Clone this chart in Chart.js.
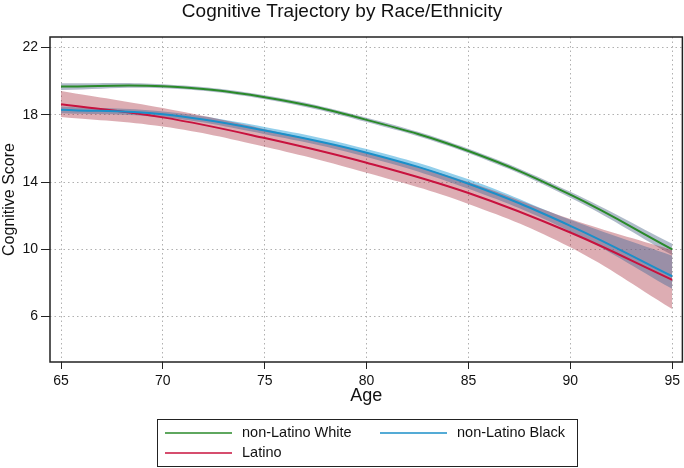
<!DOCTYPE html>
<html>
<head>
<meta charset="utf-8">
<script src="https://cdn.jsdelivr.net/npm/chart.js@4"></script>
<style>
  html, body { margin: 0; padding: 0; background: #fff; }
  #wrap { width: 684px; height: 468px; }
</style>
</head>
<body>
<div id="wrap"><canvas id="myChart" width="684" height="468"></canvas></div>
<script>
// values
var ages = [65, 70, 75, 80, 85, 90, 95];
var xTicks = [65, 70, 75, 80, 85, 90, 95];
var yTicks = [6, 10, 14, 18, 22];

var whiteFit   = [19.68, 19.70, 19.05, 17.70, 15.85, 13.25, 10.00];
var whiteUpper = [19.88, 19.82, 19.17, 17.83, 15.99, 13.43, 10.33];
var whiteLower = [19.48, 19.58, 18.93, 17.57, 15.71, 13.07, 9.66];

var blackFit   = [18.31, 18.03, 17.07, 15.75, 13.90, 11.40, 8.40];
var blackUpper = [18.50, 18.20, 17.28, 15.97, 14.17, 11.76, 9.62];
var blackLower = [18.10, 17.85, 16.85, 15.50, 13.60, 11.06, 7.65];

var latinoFit   = [18.63, 17.85, 16.62, 15.15, 13.35, 11.00, 8.19];
var latinoUpper = [19.42, 18.40, 17.15, 15.75, 14.00, 11.80, 9.95];
var latinoLower = [17.87, 17.30, 16.10, 14.55, 12.70, 10.12, 6.45];

var groups = ['non-Latino White', 'non-Latino Black', 'Latino'];
var lineColors = ['#2a8a2a', '#1b8fc9', '#c8123e'];
var bandColors = ['rgba(95,120,150,0.5)', 'rgba(40,160,215,0.5)', 'rgba(165,40,55,0.38)'];

function pts(ys) {
	return ages.map(function(a, i){ return {x: a, y: ys[i]}; });
}

function band(upper, lower, color) {
	return [
		{ data: pts(upper), borderWidth: 0, pointRadius: 0, fill: '+1', backgroundColor: color, tension: 0.4 },
		{ data: pts(lower), borderWidth: 0, pointRadius: 0, fill: false, tension: 0.4 }
	];
}

function line(ys, color) {
	return { data: pts(ys), borderColor: color, borderWidth: 2, pointRadius: 0, fill: false, tension: 0.4 };
}

var datasets = [
	line(whiteFit, lineColors[0]),
	line(blackFit, lineColors[1]),
	line(latinoFit, lineColors[2])
].concat(
	band(latinoUpper, latinoLower, bandColors[2]),
	band(blackUpper, blackLower, bandColors[1]),
	band(whiteUpper, whiteLower, bandColors[0])
);

var FONT = "'Liberation Sans', Arial, sans-serif";

// frame, title and boxed legend
var decor = {
	id: 'decor',
	afterDraw: function(chart){
		var c = chart.ctx, a = chart.chartArea;
		c.save();
		c.strokeStyle = '#222';
		c.lineWidth = 1.5;
		c.strokeRect(a.left, a.top, a.right - a.left, a.bottom - a.top);

		c.fillStyle = '#111';
		c.font = '19px ' + FONT;
		c.textAlign = 'center';
		c.textBaseline = 'middle';
		c.fillText('Cognitive Trajectory by Race/Ethnicity', 342, 12);

		c.lineWidth = 1;
		c.strokeStyle = '#222';
		c.strokeRect(157.5, 419.5, 420, 47);
		var items = [
			{x: 165, y: 433, i: 0},
			{x: 380, y: 433, i: 1},
			{x: 165, y: 453, i: 2}
		];
		c.font = '14.5px ' + FONT;
		c.textAlign = 'left';
		items.forEach(function(it){
			c.strokeStyle = lineColors[it.i];
			c.lineWidth = 1.5;
			c.beginPath();
			c.moveTo(it.x, it.y);
			c.lineTo(it.x + 67, it.y);
			c.stroke();
			c.fillStyle = '#111';
			c.fillText(groups[it.i], it.x + 77, it.y);
		});
		c.restore();
	}
};

var ctx = document.getElementById('myChart').getContext('2d');
var myChart = new Chart(ctx, {
	type: 'line',
	data: { datasets: datasets },
	plugins: [decor],
	options: {
		responsive: false,
		animation: false,
		layout: { padding: { top: 37, right: 1, bottom: 61, left: 0 } },
		plugins: {
			legend: { display: false },
			title: { display: false },
			tooltip: { enabled: false },
			filler: { drawTime: 'beforeDatasetsDraw' }
		},
		scales: {
			x: {
				type: 'linear',
				min: 64.46,
				max: 95.5,
				afterBuildTicks: function(s){ s.ticks = xTicks.map(function(v){ return {value: v}; }); },
				afterFit: function(s){ s.height = 45; },
				border: { display: false, dash: [1.5, 3] },
				grid: { color: '#b0b0b0', tickLength: 7, tickColor: '#222', tickBorderDash: [], tickWidth: 1 },
				ticks: { color: '#111', font: { family: FONT, size: 14 }, padding: 4, maxRotation: 0 },
				title: { display: true, text: 'Age', color: '#111', font: { family: FONT, size: 18 }, padding: { top: 0, bottom: 0 } }
			},
			y: {
				min: 3.3,
				max: 22.63,
				afterBuildTicks: function(s){ s.ticks = yTicks.map(function(v){ return {value: v}; }); },
				afterFit: function(s){ s.width = 50; },
				border: { display: false, dash: [1.5, 3] },
				grid: { color: '#b0b0b0', tickLength: 9, tickColor: '#222', tickBorderDash: [], tickWidth: 1 },
				ticks: { color: '#111', font: { family: FONT, size: 14 }, padding: 3 },
				title: { display: true, text: 'Cognitive Score', color: '#111', font: { family: FONT, size: 16 }, padding: { top: 0, bottom: 0 } }
			}
		}
	}
});
</script>
</body>
</html>
